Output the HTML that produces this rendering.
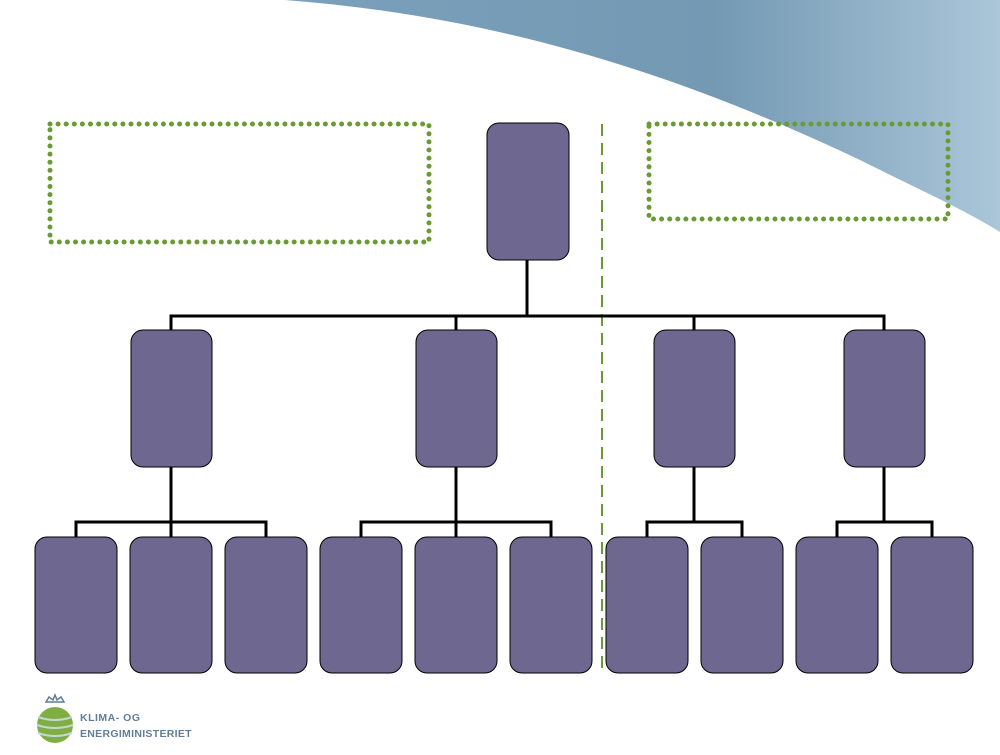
<!DOCTYPE html>
<html><head><meta charset="utf-8"><style>
body{margin:0;width:1000px;height:750px;overflow:hidden;background:#fff;font-family:"Liberation Sans",sans-serif}
</style></head><body>
<svg width="1000" height="750" viewBox="0 0 1000 750" xmlns="http://www.w3.org/2000/svg">
<defs>
<linearGradient id="g" x1="0" y1="0" x2="1" y2="0">
<stop offset="0" stop-color="#7aa0bb"/>
<stop offset="0.6" stop-color="#7399b3"/>
<stop offset="1" stop-color="#abc6d9"/>
</linearGradient>
</defs>
<path d="M285,0 C480,15 660,65 860,160 C920,190 965,210 1000,232 L1000,0 Z" fill="url(#g)"/>
<g fill="none" stroke="#6a9a32" stroke-width="5" stroke-linecap="round" stroke-dasharray="0 8.1">
<rect x="50" y="124" width="379" height="118"/>
<rect x="649" y="124" width="299" height="95"/>
</g>
<line x1="602" y1="124" x2="602" y2="673" stroke="#6a9a32" stroke-width="2" stroke-dasharray="12 7"/>
<g stroke="#000" stroke-width="3" fill="none">
<path d="M527,260V316M171,330V316H884V330M456,316V330M694,316V330"/>
<path d="M171,467V522M76,537V522H266V537M171,522V537"/>
<path d="M456,467V522M361,537V522H551V537M456,522V537"/>
<path d="M694,467V522M647,537V522H742V537"/>
<path d="M884,467V522M837,537V522H932V537"/>
</g>
<g fill="#6e6790" stroke="#000" stroke-width="1">
<rect x="487" y="123" width="82" height="137" rx="12"/>
<rect x="131" y="330" width="81" height="137" rx="12"/>
<rect x="416" y="330" width="81" height="137" rx="12"/>
<rect x="654" y="330" width="81" height="137" rx="12"/>
<rect x="844" y="330" width="81" height="137" rx="12"/>
<rect x="35" y="537" width="82" height="136" rx="12"/>
<rect x="130" y="537" width="82" height="136" rx="12"/>
<rect x="225" y="537" width="82" height="136" rx="12"/>
<rect x="320" y="537" width="82" height="136" rx="12"/>
<rect x="415" y="537" width="82" height="136" rx="12"/>
<rect x="510" y="537" width="82" height="136" rx="12"/>
<rect x="606" y="537" width="82" height="136" rx="12"/>
<rect x="701" y="537" width="82" height="136" rx="12"/>
<rect x="796" y="537" width="82" height="136" rx="12"/>
<rect x="891" y="537" width="82" height="136" rx="12"/>
</g>
<g>
<path d="M46,702 l3,-5 4,3 2,-5 2,5 4,-3 3,5 z" fill="none" stroke="#5f7f99" stroke-width="1.5"/>
<circle cx="55" cy="725" r="18" fill="#7fae43"/>
<g stroke="#c8d4dc" stroke-width="2" fill="none">
<path d="M38,717 q17,6 34,0"/><path d="M37,725 q18,6 36,0"/><path d="M38,733 q17,6 34,0"/>
</g>
<text x="80" y="721" font-size="10.5" font-weight="bold" fill="#5f7f99" letter-spacing="0.5">KLIMA- OG</text>
<text x="80" y="737" font-size="10.5" font-weight="bold" fill="#5f7f99" letter-spacing="0.3">ENERGIMINISTERIET</text>
</g>
</svg>
</body></html>
